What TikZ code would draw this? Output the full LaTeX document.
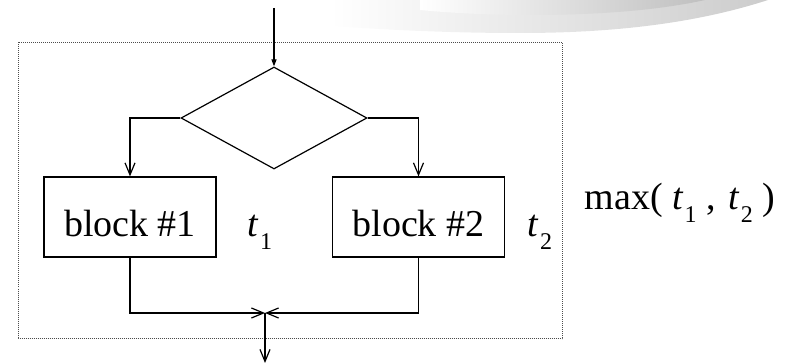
\documentclass[tikz,border=0pt]{standalone}
\usepackage{fontspec}
\setmainfont{Liberation Serif}
\usetikzlibrary{arrows.meta,shapes.geometric}

\newcommand{\tsub}[1]{{\itshape t}\kern2pt\raisebox{-13pt}{\fontsize{24}{24}\selectfont #1}}

\begin{document}
\begin{tikzpicture}[x=1pt, y=-1pt,
    line width=1.2pt,
    big/.style={font=\fontsize{38}{42}\selectfont},
    block/.style={draw, big, minimum width=172pt, minimum height=80pt, inner sep=0pt,
      text height=40pt, text depth=0pt},
    decision/.style={draw, diamond, minimum width=186pt, minimum height=102pt, inner sep=0pt},
    flow/.style={-{Straight Barb[length=12pt, width=10pt]}},
    frame/.style={gray!60!black, line width=1pt, dash pattern=on 1pt off 1pt}]
  \useasboundingbox (0,0) rectangle (798,363);
  % background swoosh
  \shade[left color=white, right color=gray!40]
    (330,0) -- (768,0) .. controls (700,22) and (620,33) .. (520,33)
    .. controls (450,33) and (390,30) .. (330,26) -- cycle;
  \shade[left color=white, right color=gray!50]
    (420,0) -- (705,0) .. controls (660,10) and (600,15) .. (530,15)
    .. controls (480,15) and (440,12) .. (420,10) -- cycle;
  % frame
  \draw[frame] (18,42.5) rectangle (562.5,339);
  % nodes
  \coordinate (start) at (274,8);
  \node[decision] (dec) at (274,118) {};
  \node[block] (b1) at (130,217) {block \#1};
  \node[block] (b2) at (418.5,217) {block \#2};
  \node[big, anchor=base west, inner sep=0pt] (t1) at (247,237) {\tsub{1}};
  \node[big, anchor=base west, inner sep=0pt] (t2) at (527,237) {\tsub{2}};
  \node[big, anchor=base west, inner sep=0pt] (mx) at (584,210)
    {max(\ \tsub{1}\ ,\kern3pt\ \tsub{2}\ )};
  \coordinate (join) at (265,313);
  \coordinate (out) at (265,363);
  % connectors
  \draw[-{Triangle[length=7pt, width=5pt]}] (start) -- (dec.north);
  \draw[flow] (dec.west) -| (b1.north);
  \draw[flow] (dec.east) -| (b2.north);
  \draw[flow] (b1.south) |- (join);
  \draw[flow] (b2.south) |- (join);
  \draw[flow] (join) -- (out);
\end{tikzpicture}
\end{document}
